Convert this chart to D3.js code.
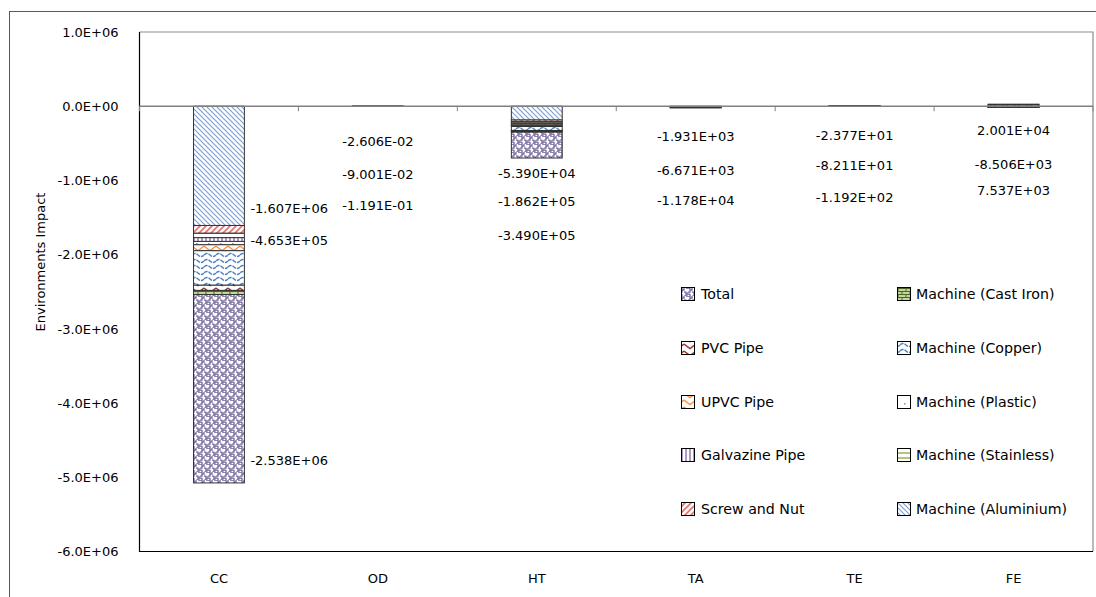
<!DOCTYPE html>
<html><head><meta charset="utf-8">
<script src="https://cdn.jsdelivr.net/npm/d3@7"></script>
<style>html,body{margin:0;padding:0;background:#fff}svg{display:block}text{font-family:"DejaVu Sans",sans-serif;fill:#000}</style>
</head><body><svg id="c" width="1096" height="597"></svg>
<script>
const categories = ["CC","OD","HT","TA","TE","FE"];
const seriesNames = ["Machine (Aluminium)","Screw and Nut","Machine (Stainless)","Galvazine Pipe","Machine (Plastic)","UPVC Pipe","Machine (Copper)","PVC Pipe","Machine (Cast Iron)","Total"];
const aluminium = [-1607000, -0.09001, -186200, -6671, -82.11, -8506];
const screwNut  = [-105000, -0.0008, -22000, -700, -3, -800];
const stainless = [-60000, -0.0005, -20000, -500, -2, -600];
const galvazine = [-50000, -0.0004, -15000, -400, -2, -500];
const plastic   = [-45000, -0.0003, -18000, -450, -2, -550];
const upvc      = [-80000, -0.0004, -12000, -400, -1.5, -500];
const copper    = [-465300, -0.02606, -53900, -1931, -23.77, 20010];
const pvc       = [-70000, -0.0003, -12000, -400, -1.5, -550];
const castIron  = [-55700, -0.00033, -9900, -328, -1.32, -467];
const total     = [-2538000, -0.1191, -349000, -11780, -119.2, 7537];
const yTicks = [1e6, 0, -1e6, -2e6, -3e6, -4e6, -5e6, -6e6];
const legendCol1 = ["Total","PVC Pipe","UPVC Pipe","Galvazine Pipe","Screw and Nut"];
const legendCol2 = ["Machine (Cast Iron)","Machine (Copper)","Machine (Plastic)","Machine (Stainless)","Machine (Aluminium)"];
// which series are annotated under each category (top to bottom)
const labelKeys = [
  ["Machine (Aluminium)","Machine (Copper)","Total"],
  ["Machine (Copper)","Machine (Aluminium)","Total"],
  ["Machine (Copper)","Machine (Aluminium)","Total"],
  ["Machine (Copper)","Machine (Aluminium)","Total"],
  ["Machine (Copper)","Machine (Aluminium)","Total"],
  ["Machine (Copper)","Machine (Aluminium)","Total"]
];

const seriesValues = {
  "Machine (Aluminium)": aluminium, "Screw and Nut": screwNut, "Machine (Stainless)": stainless,
  "Galvazine Pipe": galvazine, "Machine (Plastic)": plastic, "UPVC Pipe": upvc,
  "Machine (Copper)": copper, "PVC Pipe": pvc, "Machine (Cast Iron)": castIron, "Total": total
};
const rows = categories.map((c,i)=>{const r={cat:c}; seriesNames.forEach(s=>r[s]=seriesValues[s][i]); return r;});

// layout constants
const L = {left:139.5, right:1093, top:32, bottom:551.5};
const labelY = [[208,240,460],[141,174,205],[173,201,235],[136,170,200],[135,165,197],[130,164,190]];

function sci(v,d){const s=v.toExponential(d);const p=s.split("e");const e=p[1];return p[0]+"E"+e[0]+String(Math.abs(+e)).padStart(2,"0");}

const svg = d3.select("#c");
const defs = svg.append("defs");
function pat(id,w,h,bg,draw){const p=defs.append("pattern").attr("id",id).attr("patternUnits","userSpaceOnUse").attr("width",w).attr("height",h);
  p.append("rect").attr("width",w).attr("height",h).attr("fill",bg); draw(p); }
pat("p-al",5,5,"#fff",p=>{p.append("path").attr("d","M-1,-1 L6,6 M-1,4 L1,6 M4,-1 L6,1").attr("stroke","#7da0d3").attr("stroke-width",1.2);});
pat("p-sn",6,6,"#fff",p=>{p.append("path").attr("d","M-1,7 L7,-1 M-1,1 L1,-1 M5,7 L7,5").attr("stroke","#e5716c").attr("stroke-width",1.6);});
pat("p-ss",6,5,"#fff",p=>{p.append("path").attr("d","M0,3 H6").attr("stroke","#9bbb59").attr("stroke-width",1.6);});
pat("p-gv",4,6,"#fff",p=>{p.append("path").attr("d","M2,0 V6").attr("stroke","#8064a2").attr("stroke-width",1.3);});
pat("p-pl",12,10,"#fff",p=>{p.append("rect").attr("x",4).attr("y",3).attr("width",1.5).attr("height",1.5).attr("fill","#4bacc6");});
pat("p-up",12,7,"#fff",p=>{p.append("path").attr("d","M0,1 L6,5.5 L12,1").attr("stroke","#f79646").attr("stroke-width",1.4).attr("fill","none");});
pat("p-cu",12,6,"#fff",p=>{p.append("path").attr("d","M0,3 Q3,0 6,3 T12,3").attr("stroke","#4f81bd").attr("stroke-width",1.3).attr("fill","none").attr("stroke-dasharray","4,1");});
pat("p-pv",12,7,"#fff",p=>{p.append("path").attr("d","M0,1 L6,5.5 L12,1").attr("stroke","#953735").attr("stroke-width",1.4).attr("fill","none");});
pat("p-ci",8,6,"#c3d69b",p=>{p.append("path").attr("d","M0,0.5 H8 M0,3.5 H8 M2,0.5 V3.5 M6,3.5 V6").attr("stroke","#4f6228").attr("stroke-width",1).attr("fill","none");});
pat("p-tt",8,8,"#fff",p=>{p.append("path").attr("d","M0,4 H2 V2 H4 V0 M4,8 H6 V6 H8 V4 M4,4 H6 V6 M0,0 H2 V2 M6,0 H8 M6,8 H8 M2,6 V8 M0,6 H2").attr("stroke","#6f6396").attr("stroke-width",1.25).attr("fill","none");});
const fills = {"Machine (Aluminium)":"p-al","Screw and Nut":"p-sn","Machine (Stainless)":"p-ss","Galvazine Pipe":"p-gv","Machine (Plastic)":"p-pl","UPVC Pipe":"p-up","Machine (Copper)":"p-cu","PVC Pipe":"p-pv","Machine (Cast Iron)":"p-ci","Total":"p-tt"};

// outer frame
svg.append("rect").attr("x",9.5).attr("y",11.5).attr("width",1200).attr("height",700).attr("fill","none").attr("stroke","#595959").attr("stroke-width",1);

const x = d3.scaleBand().domain(categories).range([L.left,L.right]).padding(0);
const y = d3.scaleLinear().domain([-6e6,1e6]).range([L.bottom,L.top]);
const bw = x.bandwidth()*0.32;

// plot frame
svg.append("path").attr("d",`M${L.left},${L.top} H${L.right} V${L.bottom}`).attr("fill","none").attr("stroke","#8c8c8c").attr("stroke-width",1.2);

// y axis
const yAxis = d3.axisLeft(y).tickValues(yTicks).tickSize(0).tickPadding(21).tickFormat(d=>sci(d,1));
const ga = svg.append("g").attr("transform",`translate(${L.left},0)`).call(yAxis);
ga.select(".domain").remove();
ga.selectAll("text").style("font-family","DejaVu Sans").style("font-size","13px").attr("fill","#000");
svg.append("path").attr("d",`M${L.left},${L.top} V${L.bottom} H${L.right}`).attr("fill","none").attr("stroke","#000").attr("stroke-width",1.2);

// stacks
const stack = d3.stack().keys(seriesNames).offset(d3.stackOffsetDiverging)(rows);
svg.append("g").selectAll("g").data(stack).join("g").attr("fill",d=>`url(#${fills[d.key]})`)
  .selectAll("rect").data(d=>d).join("rect")
  .attr("x",d=>x(d.data.cat)+x.bandwidth()/2-bw/2).attr("width",bw)
  .attr("y",d=>y(Math.max(d[0],d[1]))).attr("height",d=>Math.abs(y(d[0])-y(d[1])))
  .attr("stroke","#333").attr("stroke-width",1);

// zero axis line & ticks
const y0 = y(0);
svg.append("line").attr("x1",L.left).attr("x2",L.right).attr("y1",y0).attr("y2",y0).attr("stroke","#808080").attr("stroke-width",1.5);
const bounds = categories.map(c=>x(c)).concat([L.right]);
svg.append("g").selectAll("line").data(bounds).join("line").attr("x1",d=>d).attr("x2",d=>d).attr("y1",y0).attr("y2",y0+5).attr("stroke","#808080").attr("stroke-width",1);

// category labels
svg.append("g").selectAll("text").data(categories).join("text").attr("x",d=>x(d)+x.bandwidth()/2).attr("y",578).attr("text-anchor","middle").attr("dominant-baseline","central").style("font-size","13px").text(d=>d);

// axis title
svg.append("text").attr("transform","translate(40,262) rotate(-90)").attr("text-anchor","middle").attr("dominant-baseline","central").style("font-size","13px").text("Environments Impact");

// data labels
categories.forEach((c,i)=>{
  labelKeys[i].forEach((k,j)=>{
    const t = svg.append("text").attr("y",labelY[i][j]).attr("dominant-baseline","central").style("font-size","13px").text(sci(seriesValues[k][i],3));
    if(i===0){ t.attr("x",x(c)+x.bandwidth()/2+bw/2+6).attr("text-anchor","start"); }
    else { t.attr("x",x(c)+x.bandwidth()/2).attr("text-anchor","middle"); }
  });
});

// legend
const legRows = [294,348,402,455,509];
function legend(items,sx,tx){
  const g = svg.append("g");
  items.forEach((s,i)=>{
    g.append("rect").attr("x",sx).attr("y",legRows[i]-6.5).attr("width",13).attr("height",13).attr("fill",`url(#${fills[s]})`).attr("stroke","#000").attr("stroke-width",1);
    g.append("text").attr("x",tx).attr("y",legRows[i]).attr("dominant-baseline","central").style("font-size","14.2px").text(s);
  });
}
legend(legendCol1,681.5,701);
legend(legendCol2,897.5,916);
</script></body></html>
